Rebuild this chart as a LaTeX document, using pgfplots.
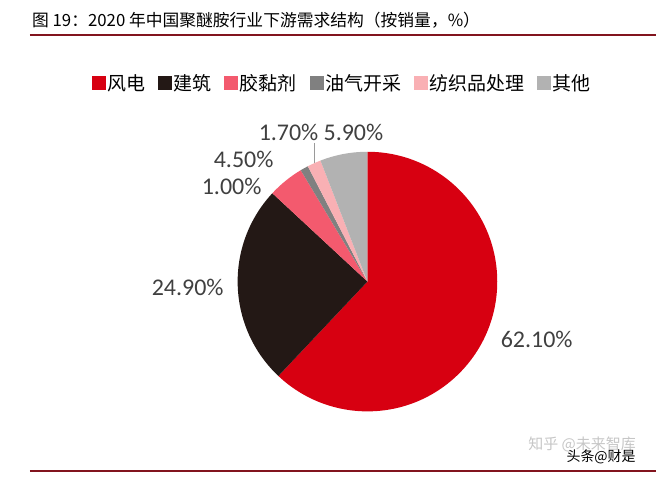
\documentclass[border=0pt]{standalone}
\usepackage{pgfplots}
\pgfplotsset{compat=1.18}
\usepackage{pgfplotstable}
\usepackage{fontspec}
\setmainfont{Noto Sans CJK SC}
\newfontfamily\calfont{Carlito}

\definecolor{cWind}{RGB}{215,0,17}
\definecolor{cBuild}{RGB}{35,24,21}
\definecolor{cGlue}{RGB}{243,90,110}
\definecolor{cOil}{RGB}{128,128,128}
\definecolor{cTex}{RGB}{249,176,180}
\definecolor{cOther}{RGB}{178,178,178}
\definecolor{cLine}{RGB}{130,20,30}
\definecolor{cLab}{RGB}{64,64,64}

\pgfplotstableread{
key value
A 62.1
B 24.9
C 4.5
D 1.0
E 1.7
F 5.9
}\piedata

\def\cx{368}
\def\cy{196}
\def\rad{130}

\newcommand\pieWedge[3]{%
  \pgfmathsetmacro\angS{90-(#1/\total)*360}%
  \pgfmathsetmacro\angE{90-(#2/\total)*360}%
  \edef\doWedge{\noexpand\fill[#3] (axis cs:\cx,\cy) --
    (axis cs:{\cx+\rad*cos(\angS)},{\cy+\rad*sin(\angS)})
    arc[start angle=\angS, end angle=\angE, radius=\rad bp] -- cycle;}%
  \doWedge}

\begin{document}
\begin{tikzpicture}
\xdef\total{0}
\foreach \i in {0,...,5}{
  \pgfplotstablegetelem{\i}{value}\of\piedata
  \pgfmathsetmacro\t{\total+\pgfplotsretval}
  \xdef\total{\t}
}
\xdef\cum{0}
\foreach \i/\nm in {0/A,1/B,2/C,3/D,4/E,5/F}{
  \pgfplotstablegetelem{\i}{value}\of\piedata
  \pgfmathsetmacro\cumnext{\cum+\pgfplotsretval}
  \expandafter\xdef\csname st\nm\endcsname{\cum}
  \expandafter\xdef\csname en\nm\endcsname{\cumnext}
  \xdef\cum{\cumnext}
}
\begin{axis}[
  scale only axis, width=657bp, height=478bp,
  xmin=0, xmax=657, ymin=0, ymax=478,
  hide axis, clip=false,
  legend columns=6,
  legend image code/.code={\fill[#1] (0bp,-6.5bp) rectangle (13bp,6.5bp);},
  legend style={draw=none, fill=none, inner sep=0pt, outer sep=0pt,
    at={(axis cs:92,395)}, anchor=west,
    font=\fontsize{19bp}{21bp}\selectfont,
    nodes={inner sep=1bp},
    /tikz/every odd column/.append style={column sep=1bp},
    /tikz/every even column/.append style={column sep=12bp}},
]
\path (axis cs:0,0) rectangle (axis cs:657,478);
\node[anchor=west, inner sep=0pt, font=\fontsize{16.8bp}{18bp}\selectfont]
  at (axis cs:32,458) {图 19：2020 年中国聚醚胺行业下游需求结构（按销量，\%）};
\draw[cLine, line width=2bp] (axis cs:30,443) -- (axis cs:657,443);
\draw[cLine, line width=2bp] (axis cs:30,6) -- (axis cs:657,6);

\addlegendimage{cWind}\addlegendentry{风电}
\addlegendimage{cBuild}\addlegendentry{建筑}
\addlegendimage{cGlue}\addlegendentry{胶黏剂}
\addlegendimage{cOil}\addlegendentry{油气开采}
\addlegendimage{cTex}\addlegendentry{纺织品处理}
\addlegendimage{cOther}\addlegendentry{其他}

\pieWedge{\stA}{\enA}{cWind}
\pieWedge{\stB}{\enB}{cBuild}
\pieWedge{\stC}{\enC}{cGlue}
\pieWedge{\stD}{\enD}{cOil}
\pieWedge{\stE}{\enE}{cTex}
\pieWedge{\stF}{\enF}{cOther}

\begin{scope}[every node/.style={text=cLab, inner sep=0pt, font=\calfont\fontsize{24bp}{26bp}\selectfont}]
\node at (axis cs:537.5,138) {62.10\%};
\node at (axis cs:188,190) {24.90\%};
\node at (axis cs:232,291) {1.00\%};
\node at (axis cs:244,318) {4.50\%};
\node at (axis cs:289,345) {1.70\%};
\node at (axis cs:354,345) {5.90\%};
\end{scope}
\draw[cOil!80, line width=1bp] (axis cs:315,335) -- (axis cs:315,315);

\node[text=gray!45, font=\fontsize{15bp}{16bp}\selectfont] at (axis cs:583,33) {知乎 @未来智库};
\node[text=black, font=\fontsize{14bp}{15bp}\selectfont] at (axis cs:602,20) {头条@财是};
\end{axis}
\end{tikzpicture}
\end{document}
